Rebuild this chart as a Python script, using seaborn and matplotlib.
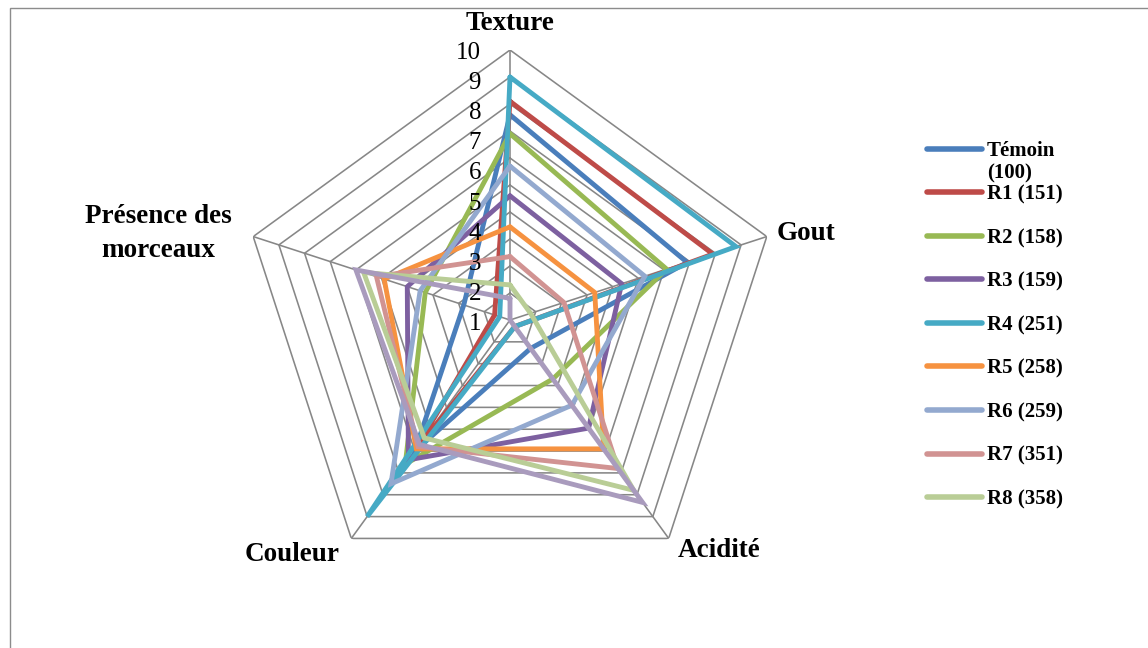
import numpy as np
import matplotlib
matplotlib.use("Agg")
import matplotlib.pyplot as plt
import seaborn as sns
from matplotlib.transforms import offset_copy
from matplotlib.patches import Rectangle

# ---------------- data ----------------
categories = ["Texture", "Gout", "Acidité", "Couleur", "Présence des\nmorceaux"]
series_names = ["Témoin (100)", "R1 (151)", "R2 (158)", "R3 (159)", "R4 (251)",
                "R5 (258)", "R6 (259)", "R7 (351)", "R8 (358)", "R9"]
in_legend = [True, True, True, True, True, True, True, True, True, False]

temoin = [7.6, 6.9, 1.3, 6.0, 1.8]
r1 = [8.1, 7.9, 0.3, 6.0, 0.6]
r2 = [6.9, 6.1, 2.7, 6.6, 3.3]
r3 = [4.6, 4.35, 4.95, 6.4, 4.0]
r4 = [9.0, 8.8, 0.3, 9.0, 0.4]
r5 = [3.45, 3.3, 5.9, 5.9, 4.9]
r6 = [5.7, 5.25, 3.9, 7.5, 3.5]
r7 = [2.35, 2.1, 6.8, 5.8, 5.2]
r8 = [1.3, 0.8, 7.8, 5.4, 5.7]
r9 = [0.8, 0.0, 8.35, 5.7, 6.0]
series_values = [temoin, r1, r2, r3, r4, r5, r6, r7, r8, r9]

tick_values = [1, 2, 3, 4, 5, 6, 7, 8, 9, 10]

colors = ["#4A7EBB", "#BE4B48", "#98B954", "#7D60A0", "#46AAC5",
          "#F69240", "#93A9CF", "#D19392", "#B9CD96", "#A99BBD"]

# ---------------- style ----------------
sns.set_style("white")
plt.rcParams["font.family"] = ["Liberation Serif", "DejaVu Serif"]
plt.rcParams["text.color"] = "black"

W, H = 1148, 648
fig = plt.figure(figsize=(W / 100, H / 100), dpi=100)
ax = fig.add_axes([240 / W, 58 / H, 540 / W, 540 / H], projection="polar")
ax.set_theta_zero_location("N")
ax.set_theta_direction(-1)
ax.grid(False)
ax.spines["polar"].set_visible(False)
ax.set_xticks([])
ax.set_yticks([])
ax.patch.set_alpha(0)

n = len(categories)
angles = np.linspace(0, 2 * np.pi, n, endpoint=False)
theta_closed = np.concatenate([angles, angles[:1]])

grid_col = "#878787"
for k in tick_values:
    ax.plot(theta_closed, [k] * (n + 1), color=grid_col, lw=1.15, zorder=1,
            solid_joinstyle="miter")
for a in angles:
    ax.plot([a, a], [0, max(tick_values)], color=grid_col, lw=1.15, zorder=1)

handles, labels = [], []
for name, vals, col, leg in zip(series_names, series_values, colors, in_legend):
    vals_closed = list(vals) + [vals[0]]
    sns.lineplot(x=theta_closed, y=vals_closed, sort=False, estimator=None,
                 color=col, linewidth=3.5, ax=ax, legend=False, zorder=3)
    line = ax.lines[-1]
    line.set_solid_joinstyle("miter")
    line.set_solid_capstyle("round")
    if leg:
        handles.append(line)
        labels.append(name)

ax.set_ylim(0, 10)
ax.set_xlabel("")
ax.set_ylabel("")

# category labels
cat_pos = [(11.0, "center", 0), (10.4, "left", 0),
           (10.55, "left", 0), (10.75, "right", 0),
           (10.85, "right", -4)]
for a, txt, (r, ha, dy) in zip(angles, categories, cat_pos):
    tr = offset_copy(ax.transData, fig=fig, x=0, y=dy, units="dots")
    ax.text(a, r, txt, transform=tr, ha=ha, va="center", fontsize=19.5,
            fontweight="bold", multialignment="center", linespacing=1.45,
            clip_on=False, color="black")

# radial tick labels on the Texture axis
for k in tick_values:
    tr = offset_copy(ax.transData, fig=fig, x=-29, y=-(3 + (10 - k) * 3.1), units="dots")
    ax.text(angles[0], k, str(k), transform=tr, ha="right", va="center",
            fontsize=18, clip_on=False, color="black")

# legend
leg_labels = []
rests = []
for lab in labels:
    if len(lab) > 9:
        first, rest = lab.split(" ", 1)
        leg_labels.append(first)
        rests.append(rest)
    else:
        leg_labels.append(lab)
        rests.append(None)

legend = fig.legend(handles, leg_labels, loc="upper left",
                    bbox_to_anchor=(927 / W, 1 - 141 / H), frameon=False,
                    prop={"family": "Liberation Serif", "weight": "bold", "size": 15},
                    handlelength=2.65, handletextpad=0.22, labelspacing=1.13,
                    borderpad=0, borderaxespad=0, labelcolor="black")
for lh in legend.get_lines():
    lh.set_linewidth(4)
    lh.set_solid_capstyle("round")

fig.canvas.draw()
renderer = fig.canvas.get_renderer()
for t, rest in zip(legend.get_texts(), rests):
    if rest:
        bb = t.get_window_extent(renderer)
        fig.text(bb.x0 / W, (bb.y0 + bb.height / 2 - 22) / H, rest,
                 ha="left", va="center", fontsize=15, fontweight="bold",
                 family="Liberation Serif", color="black")

# outer chart border
fig.add_artist(Rectangle((10 / W, -0.1), 1.2, 1.1 - 8 / H, transform=fig.transFigure,
                         fill=False, edgecolor="#8c8c8c", lw=1))

fig.savefig("out.png", dpi=100)
